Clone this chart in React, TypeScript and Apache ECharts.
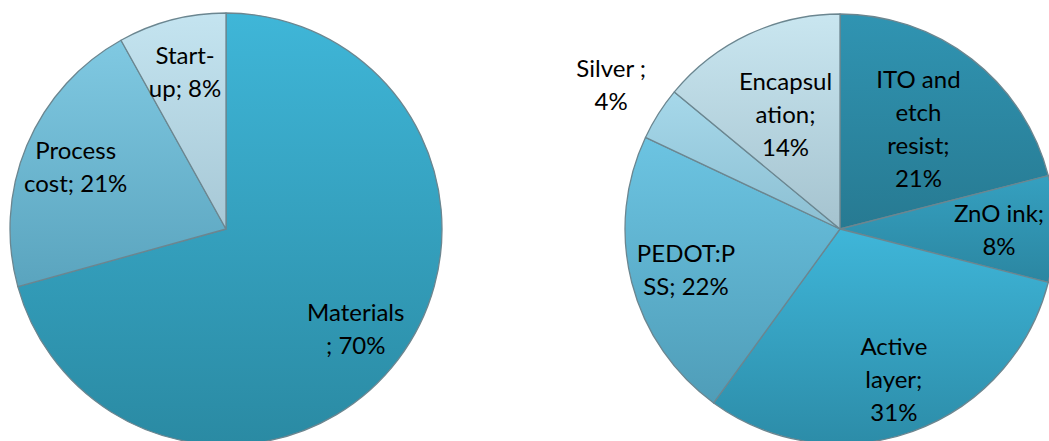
import React, { useEffect, useRef } from "react";
import * as echarts from "echarts";

const leftNames = ["Materials", "Process cost", "Start-up"];
const leftValues = [70, 21, 8];
const leftLabels = ["Materials\n; 70%", "Process\ncost; 21%", "Start-\nup; 8%"];

const rightNames = ["ITO and etch resist", "ZnO ink", "Active layer", "PEDOT:PSS", "Silver", "Encapsulation"];
const rightValues = [21, 8, 31, 22, 4, 14];
const rightLabels = ["ITO and\netch\nresist;\n21%", "ZnO ink;\n8%", "Active\nlayer;\n31%", "PEDOT:P\nSS; 22%", "Silver ;\n4%", "Encapsul\nation;\n14%"];

const leftColors: [string, string][] = [
  ["#3fb6d8", "#2a8aa3"],
  ["#80c9e2", "#5aa4be"],
  ["#c4e4f0", "#a7c8d6"],
];
const rightColors: [string, string][] = [
  ["#3094b2", "#277a92"],
  ["#35a0c0", "#2b86a1"],
  ["#3fb6d9", "#2c8ca8"],
  ["#6cc4e2", "#4f9db8"],
  ["#a6d8ea", "#8cbfd2"],
  ["#c9e6f0", "#a5c3cf"],
];

const grad = (c: [string, string]) => ({
  type: "linear",
  x: 0,
  y: 0,
  x2: 0,
  y2: 1,
  colorStops: [
    { offset: 0, color: c[0] },
    { offset: 1, color: c[1] },
  ],
});

const FONT = "Lato, 'Open Sans', sans-serif";

function visiblePie(center: number[], r: number, names: string[], values: number[], colors: [string, string][]) {
  return {
    type: "pie",
    center,
    radius: [0, r],
    startAngle: 90,
    clockwise: true,
    silent: true,
    label: { show: false },
    labelLine: { show: false },
    itemStyle: { borderColor: "#6b8690", borderWidth: 1.3 },
    data: names.map((n, i) => ({ name: n, value: values[i], itemStyle: { color: grad(colors[i]) } })),
  };
}

function labelPie(center: number[], r: number, names: string[], values: number[], labels: string[], show: number[]) {
  return {
    type: "pie",
    center,
    radius: [0, r],
    startAngle: 90,
    clockwise: true,
    silent: true,
    z: 5,
    labelLine: { show: false },
    data: names.map((n, i) => ({
      name: n,
      value: values[i],
      itemStyle: { color: "rgba(0,0,0,0)", borderWidth: 0 },
      label: {
        show: show.includes(i),
        position: "inside",
        formatter: () => labels[i],
        color: "#000",
        fontSize: 24,
        lineHeight: 33,
        fontFamily: FONT,
        align: "center",
      },
    })),
  };
}

export default function App() {
  const ref = useRef<HTMLDivElement>(null);
  useEffect(() => {
    if (!ref.current) return;
    const chart = echarts.init(ref.current, null, { renderer: "svg" });
    const lc = [226, 229];
    const rc = [840, 229];
    chart.setOption({
      animation: false,
      backgroundColor: "#ffffff",
      series: [
        visiblePie(lc, 216, leftNames, leftValues, leftColors),
        visiblePie(rc, 215, rightNames, rightValues, rightColors),
        labelPie(lc, 320, leftNames, leftValues, leftLabels, [0, 1, 2]),
        labelPie(rc, 312, rightNames, rightValues, rightLabels, [1, 2, 3]),
        labelPie(rc, 250, rightNames, rightValues, rightLabels, [0, 5]),
        labelPie(rc, 536, rightNames, rightValues, rightLabels, [4]),
      ],
    });
    return () => chart.dispose();
  }, []);
  return (
    <div
      ref={ref}
      style={{ position: "fixed", left: 0, top: 0, width: 1049, height: 441, background: "#fff" }}
    />
  );
}
